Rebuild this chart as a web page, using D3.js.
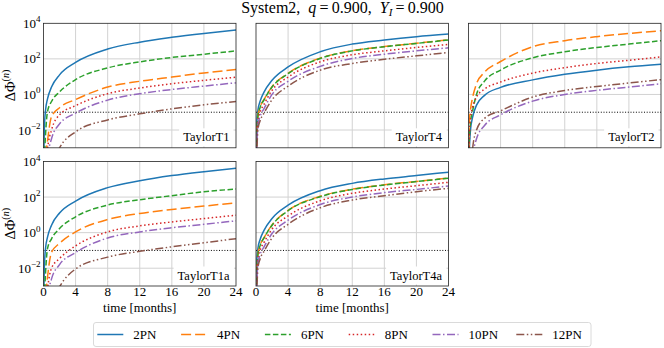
<!DOCTYPE html>
<html><head><meta charset="utf-8">
<script src="https://cdn.jsdelivr.net/npm/d3@7"></script>
<style>
body{margin:0;background:#fff}
svg{display:block}
text{font-family:"Liberation Serif","Times New Roman",serif;fill:#000}
</style>
</head><body>
<svg id="c" width="664" height="348"></svg>
<script>
// ---------- data ----------
const months = [0.02, 0.1, 0.25, 0.5, 1, 2, 4, 8, 12, 16, 20, 24];
const orders = ["2PN", "4PN", "6PN", "8PN", "10PN", "12PN"];
const xTicks = [0, 4, 8, 12, 16, 20, 24];
const yTicks = [1e-2, 1, 1e2, 1e4];
const yTickExp = ["\u22122", "0", "2", "4"];
const threshold = 0.1;
const panelNames = ["TaylorT1", "TaylorT4", "TaylorT2", "TaylorT1a", "TaylorT4a"];

// rows: 2PN, 4PN, 6PN, 8PN, 10PN, 12PN
const taylorT1 = [
  [1e-4, 1e-2, 0.126, 0.56, 2.6, 12.6, 63, 355, 870, 1620, 2690, 4170],
  [1e-5, 3.2e-5, 2.5e-4, 2.5e-3, 0.056, 0.18, 0.52, 2.6, 5.5, 9.5, 16.2, 25],
  [1e-5, 1.6e-4, 5e-3, 0.11, 0.4, 1.4, 6.8, 31, 68, 120, 182, 282],
  [1e-5, 1e-5, 3.2e-5, 8e-4, 0.01, 0.071, 0.234, 1.1, 2.3, 4.0, 6.2, 9.3],
  [1e-5, 1e-5, 1e-5, 2.5e-4, 3.2e-3, 0.022, 0.089, 0.48, 1.1, 1.9, 2.95, 4.5],
  [1e-5, 1e-5, 1e-5, 1e-5, 1e-4, 1e-3, 7.9e-3, 0.037, 0.081, 0.155, 0.26, 0.40]
];
const taylorT4 = [
  [1e-4, 0.025, 0.14, 0.4, 1.35, 6.3, 35, 250, 680, 1150, 1780, 2510],
  [3.2e-5, 6.3e-3, 0.066, 0.19, 0.52, 2.75, 15.5, 110, 288, 490, 760, 1175],
  [3.2e-5, 6.3e-3, 0.063, 0.18, 0.5, 2.6, 14.8, 105, 282, 480, 740, 1150],
  [1e-5, 2.5e-3, 0.035, 0.1, 0.28, 1.7, 9.5, 68, 170, 282, 437, 646],
  [1e-5, 1e-3, 0.02, 0.056, 0.16, 1.0, 5.5, 38, 105, 182, 282, 417],
  [1e-5, 4e-4, 0.011, 0.032, 0.089, 0.5, 2.95, 23, 55, 95, 148, 229]
];
const taylorT2 = [
  [1e-5, 6.3e-4, 0.01, 0.05, 0.25, 0.89, 2.5, 6.6, 13.5, 23, 35.5, 50],
  [1e-4, 0.025, 0.14, 0.63, 4.0, 17.8, 71, 479, 1050, 1780, 2690, 3800],
  [1e-5, 2.5e-3, 0.025, 0.11, 1.0, 5.6, 23.4, 115, 251, 437, 676, 1050],
  [1e-5, 2.5e-3, 0.05, 0.18, 0.71, 2.0, 5.0, 15.8, 32, 55, 83, 129],
  [1e-5, 1e-5, 1e-5, 2.5e-4, 3.2e-3, 0.018, 0.071, 0.42, 1.0, 1.7, 2.6, 4.0],
  [1e-5, 1e-5, 1e-5, 8e-4, 0.01, 0.045, 0.12, 0.71, 1.66, 2.8, 4.4, 6.8]
];
const taylorT1a = [
  [1e-4, 0.01, 0.126, 0.56, 2.6, 12.6, 60, 339, 832, 1620, 2690, 4170],
  [1e-5, 3.2e-5, 2.5e-4, 3.2e-3, 0.079, 0.25, 1.1, 5.5, 12, 20, 31, 48],
  [1e-5, 1.6e-4, 5e-3, 0.126, 0.45, 1.7, 7.8, 35.5, 71, 120, 200, 282],
  [1e-5, 1e-5, 3.2e-5, 6.3e-4, 0.01, 0.035, 0.18, 1.1, 2.4, 4.0, 6.2, 9.5],
  [1e-5, 1e-5, 1e-5, 2e-4, 2.5e-3, 0.016, 0.076, 0.5, 1.1, 1.9, 2.95, 4.6],
  [1e-5, 1e-5, 1e-5, 1e-5, 1e-4, 9e-4, 9.1e-3, 0.042, 0.089, 0.16, 0.27, 0.46]
];
const taylorT4a = [
  [1e-4, 0.025, 0.14, 0.4, 1.35, 6.3, 35, 229, 589, 1050, 1620, 2510],
  [3.2e-5, 6.3e-3, 0.066, 0.19, 0.52, 2.75, 17.8, 110, 275, 490, 760, 1175],
  [3.2e-5, 6.3e-3, 0.063, 0.18, 0.5, 2.6, 17, 105, 269, 479, 741, 1150],
  [1e-5, 2.5e-3, 0.035, 0.1, 0.28, 1.58, 8.7, 62, 162, 282, 437, 676],
  [1e-5, 1e-3, 0.02, 0.056, 0.16, 0.89, 5.0, 38, 100, 178, 269, 417],
  [1e-5, 4e-4, 0.011, 0.032, 0.089, 0.5, 2.95, 25, 68, 120, 200, 309]
];

// ---------- styles / layout ----------
const colors = ["#1f77b4", "#ff7f0e", "#2ca02c", "#d62728", "#9467bd", "#8c564b"];
const dashes = [null, "10,4", "5.5,2.5", "1.5,2.5", "8,2.5,1.5,2.5", "8,2.5,1.5,2.5,1.5,2.5"];
const panels = [
  {data: taylorT1, col: 0, row: 0},
  {data: taylorT4, col: 1, row: 0},
  {data: taylorT2, col: 2, row: 0},
  {data: taylorT1a, col: 0, row: 1},
  {data: taylorT4a, col: 1, row: 1}
];
const W = 192.5, H = 124.5;
const colX = [43.5, 256, 468.5], rowY = [23.3, 161.5];

const svg = d3.select("#c");
const x = d3.scaleLinear().domain([0, 24]).range([0, W]);
const y = d3.scaleLog().domain([1e-3, 1e4]).range([H, 0]);
const line = d3.line()
  .x((d, j) => x(months[j]))
  .y(d => y(d))
  .curve(d3.curveMonotoneX);

const defs = svg.append("defs");
defs.append("clipPath").attr("id", "pclip")
  .append("rect").attr("x", 0).attr("y", 0).attr("width", W).attr("height", H);

panels.forEach((p, i) => {
  const g = svg.append("g").attr("transform", `translate(${colX[p.col]},${rowY[p.row]})`);
  // grid
  g.selectAll("line.gx").data(xTicks.slice(1, -1)).join("line")
    .attr("x1", d => x(d)).attr("x2", d => x(d)).attr("y1", 0).attr("y2", H)
    .attr("stroke", "#d2d2d2").attr("stroke-width", 1);
  g.selectAll("line.gy").data(yTicks.slice(0, -1)).join("line")
    .attr("y1", d => y(d)).attr("y2", d => y(d)).attr("x1", 0).attr("x2", W)
    .attr("stroke", "#d2d2d2").attr("stroke-width", 1);
  // threshold
  g.append("line").attr("x1", 0).attr("x2", W)
    .attr("y1", y(threshold)).attr("y2", y(threshold))
    .attr("stroke", "#000").attr("stroke-width", 1).attr("stroke-dasharray", "1,1.7");
  // curves
  const cg = g.append("g").attr("clip-path", "url(#pclip)");
  p.data.forEach((series, k) => {
    cg.append("path").attr("d", line(series))
      .attr("fill", "none").attr("stroke", colors[k]).attr("stroke-width", 1.5)
      .attr("stroke-dasharray", dashes[k]);
  });
  // panel label
  const lbl = g.append("text").attr("x", W - 6.5).attr("y", H - 6.5)
    .attr("text-anchor", "end").attr("font-size", 12.5).text(panelNames[i]);
  const bb = lbl.node().getBBox();
  g.insert("rect", "text").attr("x", bb.x - 4).attr("y", bb.y - 2)
    .attr("width", bb.width + 8).attr("height", bb.height + 4).attr("fill", "#fff");
  // frame
  g.append("rect").attr("width", W).attr("height", H)
    .attr("fill", "none").attr("stroke", "#222").attr("stroke-width", 0.8);
  // y tick labels
  if (p.col === 0) {
    yTicks.forEach((v, j) => {
      const t = g.append("text").attr("x", -3).attr("y", y(v) + 4.5)
        .attr("text-anchor", "end").attr("font-size", 13);
      t.append("tspan").text("10");
      t.append("tspan").attr("dy", -5.5).attr("font-size", 9).text(yTickExp[j]);
    });
    const yl = g.append("text")
      .attr("transform", `translate(-29,${H / 2}) rotate(-90)`)
      .attr("text-anchor", "middle").attr("font-size", 14.5);
    yl.append("tspan").text("\u0394\u03A6");
    yl.append("tspan").attr("dy", -5.5).attr("font-size", 10).text("(");
    yl.append("tspan").attr("font-size", 10).attr("font-style", "italic").text("n");
    yl.append("tspan").attr("font-size", 10).text(")");
  }
  // x tick labels
  if (p.row === 1) {
    g.selectAll("text.xt").data(xTicks).join("text")
      .attr("x", d => x(d)).attr("y", H + 10).attr("text-anchor", "middle")
      .attr("font-size", 13).text(d => d);
    g.append("text").attr("x", W / 2).attr("y", H + 25.5).attr("text-anchor", "middle")
      .attr("font-size", 13).text("time [months]");
  }
});

// title
const title = svg.append("text").attr("x", 342.5).attr("y", 13)
  .attr("text-anchor", "middle").attr("font-size", 16);
title.append("tspan").text("System2,\u2002");
title.append("tspan").attr("font-style", "italic").text("q");
title.append("tspan").text("\u2009=\u20090.900,\u2002");
title.append("tspan").attr("font-style", "italic").text("Y");
title.append("tspan").attr("font-style", "italic").attr("font-size", 11).attr("dy", 3).text("I");
title.append("tspan").attr("dy", -3).text("\u2009=\u20090.900");

// legend
const lg = svg.append("g");
lg.append("rect").attr("x", 93.5).attr("y", 322.5).attr("width", 497.5).attr("height", 24)
  .attr("rx", 2.5).attr("fill", "#fff").attr("stroke", "#d0d0d0").attr("stroke-width", 0.8);
orders.forEach((name, k) => {
  const x0 = 97.3 + k * 83.8;
  lg.append("line").attr("x1", x0).attr("x2", x0 + 26).attr("y1", 334.5).attr("y2", 334.5)
    .attr("stroke", colors[k]).attr("stroke-width", 1.5).attr("stroke-dasharray", dashes[k]);
  lg.append("text").attr("x", x0 + 36).attr("y", 339).attr("font-size", 13).text(name);
});
</script>
</body></html>
